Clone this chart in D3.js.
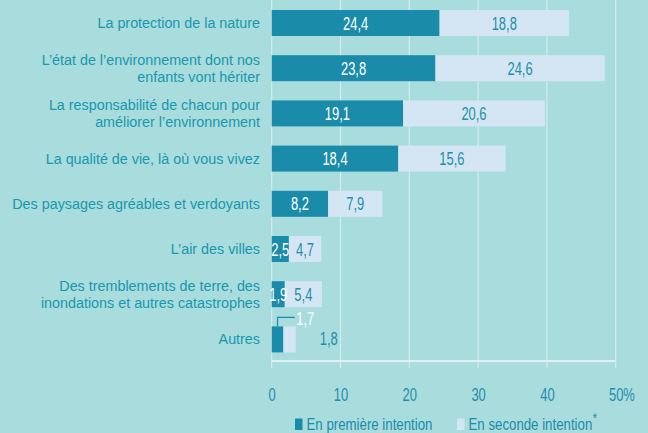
<!DOCTYPE html>
<html><head><meta charset="utf-8">
<script src="https://cdn.jsdelivr.net/npm/d3@7"></script>
<style>
html,body{margin:0;padding:0;background:#a9dcdd;}
svg{display:block;}
</style></head>
<body>
<svg id="chart" width="648" height="433"></svg>
<script>
const categories = [
  ["La protection de la nature"],
  ["L’état de l’environnement dont nos", "enfants vont hériter"],
  ["La responsabilité de chacun pour", "améliorer l’environnement"],
  ["La qualité de vie, là où vous vivez"],
  ["Des paysages agréables et verdoyants"],
  ["L’air des villes"],
  ["Des tremblements de terre, des", "inondations et autres catastrophes"],
  ["Autres"]
];
const firstIntention  = [24.4, 23.8, 19.1, 18.4, 8.2, 2.5, 1.9, 1.7];
const secondIntention = [18.8, 24.6, 20.6, 15.6, 7.9, 4.7, 5.4, 1.8];
const tickValues = [0, 10, 20, 30, 40, 50];
const seriesNames = ["En première intention", "En seconde intention"];

const C = {
  bg: "#a9dcdd", dark: "#1a8caa", light: "#d4e6f3",
  text: "#1898ad", num: "#1e8fab", grid: "#d3ecef", axis: "#def0f3"
};
const FONT = "'Liberation Sans', Arial, sans-serif";
const NUM_SIZE = 18.5, NUM_SX = 0.70;
const CAT_SIZE = 15.5, CAT_SX = 0.925;
const LEG_SIZE = 17, LEG_SX = 0.78;

const svg = d3.select("#chart");
const x = d3.scaleLinear().domain([0, 50]).range([271.7, 615.7]);
const y = d3.scaleBand().domain(d3.range(categories.length))
  .range([0.4, 362]).paddingInner(0.425).paddingOuter(0.2125);
const fmt = v => d3.format(".1f")(v).replace(".", ",");

function ctext(parent, tx, ty, str, size, sx, anchor, fill) {
  return parent.append("text")
    .attr("transform", `translate(${tx},${ty}) scale(${sx},1)`)
    .attr("text-anchor", anchor)
    .attr("font-family", FONT)
    .attr("font-size", size)
    .attr("fill", fill)
    .text(str);
}

// gridlines
svg.append("g").selectAll("line").data(tickValues).join("line")
  .attr("x1", d => x(d)).attr("x2", d => x(d))
  .attr("y1", 0).attr("y2", 368)
  .attr("stroke", C.grid).attr("stroke-width", 1.2);

// horizontal baseline
svg.append("line")
  .attr("x1", x(0)).attr("x2", x(50)).attr("y1", 361).attr("y2", 361)
  .attr("stroke", C.axis).attr("stroke-width", 2);

// bars
const rows = svg.append("g").selectAll("g").data(categories).join("g");
rows.append("rect")
  .attr("x", x(0)).attr("y", (d, i) => y(i))
  .attr("width", (d, i) => x(firstIntention[i]) - x(0))
  .attr("height", y.bandwidth()).attr("fill", C.dark);
rows.append("rect")
  .attr("x", (d, i) => x(firstIntention[i])).attr("y", (d, i) => y(i))
  .attr("width", (d, i) => x(firstIntention[i] + secondIntention[i]) - x(firstIntention[i]))
  .attr("height", y.bandwidth()).attr("fill", C.light);

// category labels
rows.each(function (d, i) {
  const g = d3.select(this);
  const cy = y(i) + y.bandwidth() / 2;
  if (d.length === 1) {
    ctext(g, x(0) - 11.7, cy + 5, d[0], CAT_SIZE, CAT_SX, "end", C.text);
  } else {
    ctext(g, x(0) - 11.7, cy - 3, d[0], CAT_SIZE, CAT_SX, "end", C.text);
    ctext(g, x(0) - 11.7, cy + 13.5, d[1], CAT_SIZE, CAT_SX, "end", C.text);
  }
});

// value labels
const last = categories.length - 1;
rows.each(function (d, i) {
  const g = d3.select(this);
  const f = firstIntention[i], s = secondIntention[i];
  const cy = y(i) + y.bandwidth() / 2;
  if (i !== last) {
    ctext(g, (x(0) + x(f)) / 2, cy + 6.5, fmt(f), NUM_SIZE, NUM_SX, "middle", "#ffffff");
    ctext(g, (x(f) + x(f + s)) / 2, cy + 6.5, fmt(s), NUM_SIZE, NUM_SX, "middle", C.num);
  } else {
    const lx = (x(0) + x(f)) / 2;
    const top = y(i);
    g.append("path")
      .attr("d", `M${lx},${top} V${top - 9} H${x(f + s) - 1}`)
      .attr("fill", "none").attr("stroke", C.dark).attr("stroke-width", 1.2);
    ctext(g, x(f + s) + 0.5, top - 1.5, fmt(f), NUM_SIZE, NUM_SX, "start", "#ffffff");
    ctext(g, x(f + s) + 33, cy + 6, fmt(s), NUM_SIZE, NUM_SX, "middle", C.num);
  }
});

// x axis
const axis = svg.append("g")
  .call(d3.axisBottom(x).tickValues(tickValues).tickSize(0).tickFormat(d3.format("d")));
axis.select(".domain").remove();
axis.selectAll(".tick text")
  .attr("y", 0).attr("dy", 0)
  .attr("transform", `translate(0,401) scale(${NUM_SX},1)`)
  .attr("font-family", FONT).attr("font-size", NUM_SIZE)
  .attr("fill", C.num);
ctext(svg, x(50) + 7.5, 401, "%", NUM_SIZE, NUM_SX, "start", C.num);

// legend
const leg = svg.append("g");
const legX = [295, 457];
const legColors = [C.dark, C.light];
seriesNames.forEach((name, k) => {
  leg.append("rect").attr("x", legX[k]).attr("y", 418.5)
    .attr("width", 7.5).attr("height", 11.5).attr("fill", legColors[k]);
  const t = ctext(leg, legX[k] + 11.5, 430, name, LEG_SIZE, LEG_SX, "start", C.dark);
  if (k === 1) {
    t.append("tspan").attr("font-size", 14).attr("dx", 0.5).attr("dy", -7).text("*");
  }
});
</script>
</body></html>
